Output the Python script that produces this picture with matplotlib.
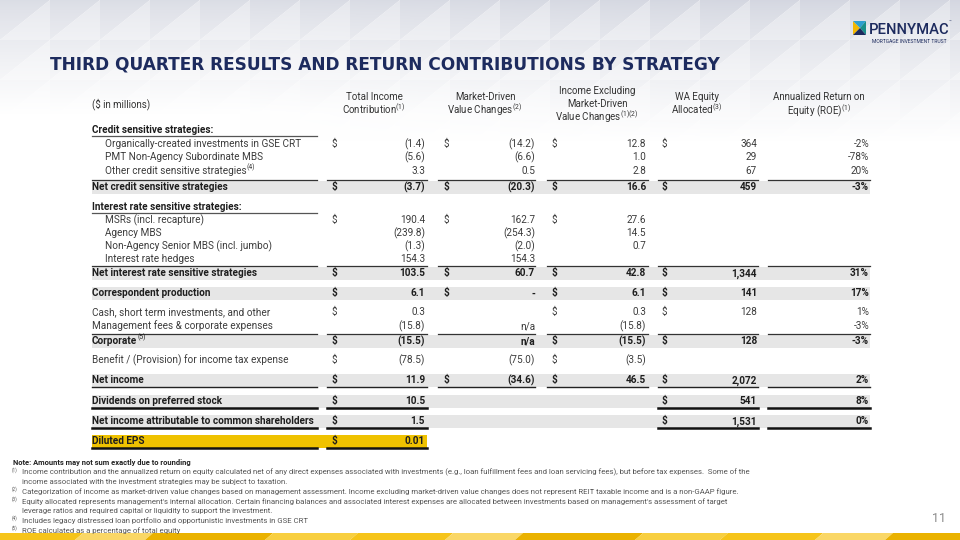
import matplotlib
matplotlib.use("Agg")
import matplotlib.pyplot as plt
from matplotlib.patches import Polygon, Rectangle
import numpy as np

plt.rcParams['font.family'] = ['Roboto', 'DejaVu Sans']
plt.rcParams['mathtext.fontset'] = 'custom'
plt.rcParams['mathtext.rm'] = 'Roboto'
plt.rcParams['mathtext.it'] = 'Roboto:italic'
plt.rcParams['mathtext.bf'] = 'Roboto:bold'

# ---- data ($ in millions) ----
row_labels = [
    "Credit sensitive strategies:",
    "Organically-created investments in GSE CRT",
    "PMT Non-Agency Subordinate MBS",
    "Other credit sensitive strategies",
    "Net credit sensitive strategies",
    "Interest rate sensitive strategies:",
    "MSRs (incl. recapture)",
    "Agency MBS",
    "Non-Agency Senior MBS (incl. jumbo)",
    "Interest rate hedges",
    "Net interest rate sensitive strategies",
    "Correspondent production",
    "Cash, short term investments, and other",
    "Management fees & corporate expenses",
    "Corporate",
    "Benefit / (Provision) for income tax expense",
    "Net income",
    "Dividends on preferred stock",
    "Net income attributable to common shareholders",
    "Diluted EPS",
]
row_sup = {3: "(4)", 14: "(5)"}
row_kind = ['section', 'item', 'item', 'item', 'subtotal',
            'section', 'item', 'item', 'item', 'item', 'subtotal',
            'total', 'plain', 'plain', 'subtotal', 'plain',
            'net', 'final', 'final', 'eps']

total_income = [None, -1.4, -5.6, 3.3, -3.7, None, 190.4, -239.8, -1.3, 154.3, 103.5,
                6.1, 0.3, -15.8, -15.5, -78.5, 11.9, 10.5, 1.5, 0.01]
market_driven = [None, -14.2, -6.6, 0.5, -20.3, None, 162.7, -254.3, -2.0, 154.3, 60.7,
                 0.0, None, "n/a", "n/a", -75.0, -34.6, None, None, None]
income_excl = [None, 12.8, 1.0, 2.8, 16.6, None, 27.6, 14.5, 0.7, None, 42.8,
               6.1, 0.3, -15.8, -15.5, -3.5, 46.5, None, None, None]
wa_equity = [None, 364, 29, 67, 459, None, None, None, None, None, 1344,
             141, 128, None, 128, None, 2072, 541, 1531, None]
roe_pct = [None, -2, -78, 20, -3, None, None, None, None, None, 31,
           17, 1, -3, -3, None, 2, 8, 0, None]
dollar_cols = [[], [0, 1, 2, 3], [], [], [0, 1, 2, 3], [], [0, 1, 2], [], [], [], [0, 1, 2, 3],
               [0, 1, 2, 3], [0, 2, 3], [], [0, 2, 3], [0, 2], [0, 1, 2, 3], [0, 3], [0, 3], [0]]

headers = [
    ["Total Income", "Contribution$^{(1)}$"],
    ["Market-Driven", "Value Changes$^{(2)}$"],
    ["Income Excluding", "Market-Driven", "Value Changes$^{(1)(2)}$"],
    ["WA Equity", "Allocated$^{(3)}$"],
    ["Annualized Return on", "Equity (ROE)$^{(1)}$"],
]

note_marks = ["(1)", "", "(2)", "(3)", "", "(4)", "(5)"]
notes = [
    "Income contribution and the annualized return on equity calculated net of any direct expenses associated with investments (e.g., loan fulfillment fees and loan servicing fees), but before tax expenses.  Some of the",
    "income associated with the investment strategies may be subject to taxation.",
    "Categorization of income as market-driven value changes based on management assessment. Income excluding market-driven value changes does not represent REIT taxable income and is a non-GAAP figure.",
    "Equity allocated represents management's internal allocation. Certain financing balances and associated interest expenses are allocated between investments based on management's assessment of target",
    "leverage ratios and required capital or liquidity to support the investment.",
    "Includes legacy distressed loan portfolio and opportunistic investments in GSE CRT",
    "ROE calculated as a percentage of total equity",
]

# ---- layout ----
navy = '#1d2b5e'
row_y = [130, 144, 157, 171, 187, 207, 220, 233, 246, 259, 273,
         293, 312, 326, 341, 360, 380, 401, 421, 441]
dollar_x = [332, 443, 552, 662]
right_x = [425, 535, 646, 757, 869]
segs = [(92, 317), (327, 427), (438, 535), (547, 648), (658, 758), (768, 870)]
head_x = [374, 485, 597, 697, 819]


def fmt(v, dec=1, kind='money'):
    if v is None:
        return ""
    if isinstance(v, str):
        return v
    if kind == 'pct':
        return f"{v:.0f}%"
    if kind == 'int':
        return f"{v:,.0f}"
    if v == 0:
        return "-"
    if v < 0:
        return f"({abs(v):.{dec}f})"
    return f"{v:.{dec}f}"


fig = plt.figure(figsize=(9.6, 5.4), dpi=100)
ax = fig.add_axes([0, 0, 1, 1])
renderer = fig.canvas.get_renderer()


def fit_size(s, target, **kw):
    t = ax.text(0, 0, s, fontsize=10, **kw)
    w = t.get_window_extent(renderer).width
    t.remove()
    return 10 * target / w


# background triangles, then a white fade over them
cw, ch = 50, 40
for i in range(-1, 21):
    for j in range(0, 4):
        x0, y0 = i * cw, j * ch
        ax.add_patch(Polygon([(x0, y0), (x0 + cw, y0), (x0, y0 + ch)],
                             closed=True, lw=0, color='#d2d5df', zorder=0))
        ax.add_patch(Polygon([(x0 + cw, y0), (x0 + cw, y0 + ch), (x0, y0 + ch)],
                             closed=True, lw=0, color='#e0e2e9', zorder=0))
fade = np.ones((160, 2, 4))
yy = np.linspace(0, 1, 160)
fade[:, :, 3] = np.clip(0.05 + yy[:, None] ** 0.8 * 1.05, 0, 1)
fade[:, 0, 3] = np.clip(fade[:, 0, 3] + 0.15, 0, 1)
ax.imshow(fade, extent=(0, 960, 160, 0), aspect='auto', interpolation='bilinear', zorder=0.5)

ax.set_xlim(0, 960)
ax.set_ylim(540, 0)
ax.axis('off')

# bottom yellow band
ycols = ['#f6c419', '#fad766', '#eab200', '#f8cf40']
x = -20
k = 0
while x < 980:
    w = [95, 70, 120, 85][k % 4]
    ax.add_patch(Polygon([(x, 540), (x + 8, 533), (x + w + 8, 533), (x + w, 540)],
                         closed=True, lw=0, color=ycols[k % 4], zorder=1))
    x += w
    k += 1

# logo
ax.add_patch(Polygon([(853, 21), (860, 28), (853, 35)], closed=True, lw=0, color='#f3b800', zorder=2))
ax.add_patch(Polygon([(853, 21), (866, 21), (860, 28)], closed=True, lw=0, color='#2e9fd0', zorder=2))
ax.add_patch(Polygon([(866, 21), (866, 35), (860, 28)], closed=True, lw=0, color='#1a8f8a', zorder=2))
ax.add_patch(Polygon([(853, 35), (866, 35), (860, 28)], closed=True, lw=0, color=navy, zorder=2))
fs = fit_size("PENNYMAC", 80, fontweight='medium')
ax.text(869, 34.5, "PENNYMAC", fontsize=fs, fontweight='medium', color=navy, va='baseline')
ax.text(949, 23, "™", fontsize=3, color=navy, va='baseline')
fs = fit_size("MORTGAGE INVESTMENT TRUST", 76)
ax.text(872, 43, "MORTGAGE INVESTMENT TRUST", fontsize=fs, color=navy, va='baseline')

# title
title = "THIRD QUARTER RESULTS AND RETURN CONTRIBUTIONS BY STRATEGY"
fs = fit_size(title, 674, fontweight='bold', family='DejaVu Sans')
ax.text(50, 69.5, title, fontsize=fs, fontweight='bold', family='DejaVu Sans',
        color=navy, va='baseline')

# table font sizes
fs_tab = fit_size("Organically-created investments in GSE CRT", 195)
fs_head = fit_size("Annualized Return on", 92)

ax.text(92, 104 + 3.3, "($ in millions)", fontsize=fs_head, color='#333333', va='baseline')
for hx, lines in zip(head_x, headers):
    ys = [97, 111] if len(lines) == 2 else [91, 104, 118]
    for yh, s in zip(ys, lines):
        ax.text(hx, yh + 3.3, s, fontsize=fs_head, color='#333333', ha='center', va='baseline')

columns = [total_income, market_driven, income_excl, wa_equity, roe_pct]
for i, label in enumerate(row_labels):
    kind = row_kind[i]
    y = row_y[i]
    bold = kind != 'item' and kind != 'plain'
    fw = 'bold' if bold else 'normal'
    tc = '#1e1e1e' if bold else '#3c3c3c'
    vals = [c[i] for c in columns]

    if kind in ('subtotal', 'total', 'net', 'final'):
        ax.add_patch(Rectangle((92, y - 6.5), 778, 13, color='#e6e6e6', lw=0, zorder=1))
    if kind == 'eps':
        ax.add_patch(Rectangle((92, y - 6.5), 335, 13, color='#efc200', lw=0, zorder=1))

    lx = 105 if kind == 'item' else 92
    t = ax.text(lx, y + 3.3, label, fontsize=fs_tab, fontweight=fw, color=tc, va='baseline', zorder=3)
    if i in row_sup:
        wpx = t.get_window_extent(renderer).width
        ax.text(lx + wpx + 0.3, y - 1.8, row_sup[i], fontsize=fs_tab * 0.68, color=tc,
                va='baseline', zorder=3)

    for c, v in enumerate(vals):
        if kind == 'eps':
            s = fmt(v, dec=2)
        elif c == 3:
            s = fmt(v, kind='int')
        elif c == 4:
            s = fmt(v, kind='pct')
        else:
            s = fmt(v)
        if s:
            ax.text(right_x[c], y + 3.3, s, fontsize=fs_tab, fontweight=fw, color=tc,
                    ha='right', va='baseline', zorder=3)
    for c in dollar_cols[i]:
        ax.text(dollar_x[c], y + 3.3, "$", fontsize=fs_tab, fontweight=fw, color=tc,
                va='baseline', zorder=3)

    # rules
    if kind == 'section':
        ax.plot(segs[0], [y + 6] * 2, color='#555555', lw=0.9, zorder=2)
    if kind == 'subtotal':
        for a, b in segs:
            ax.plot([a, b], [y - 6.8] * 2, color='#333333', lw=0.9, zorder=2)
    if kind == 'net':
        for a, b in segs:
            ax.plot([a, b], [y + 7] * 2, color='#222222', lw=1.0, zorder=2)
    if kind in ('final', 'eps'):
        used = [0] + [c + 1 for c, v in enumerate(vals) if v is not None]
        for s_i in used:
            a, b = segs[s_i]
            ax.plot([a, b], [y + 7.3] * 2, color='#111111', lw=1.8, zorder=2)

# footnotes
note_y = 462
fs_note = fit_size("Note: Amounts may not sum exactly due to rounding", 179, fontweight='bold')
ax.text(13, note_y + 3, "Note: Amounts may not sum exactly due to rounding", fontsize=fs_note,
        fontweight='bold', color='#222222', va='baseline')
fs_fn = fit_size(notes[0], 734)
for k, (m, s) in enumerate(zip(note_marks, notes)):
    yb = note_y + 9.7 * (k + 1) + 3
    if m:
        ax.text(12, yb - 3, m, fontsize=fs_fn * 0.6, color='#555555', va='baseline')
    ax.text(22, yb, s, fontsize=fs_fn, color='#555555', va='baseline')

ax.text(946, 522, "11", fontsize=9, color='#8a8a8a', ha='right', va='baseline')

fig.savefig("out.png", dpi=100)
